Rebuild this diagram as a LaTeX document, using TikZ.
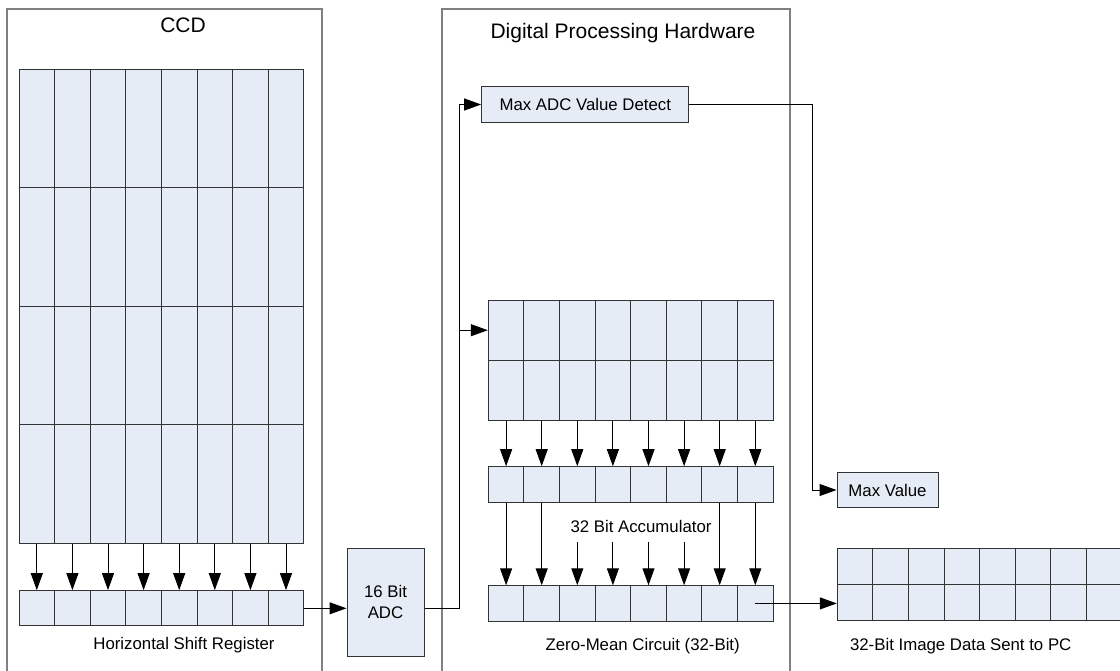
\documentclass[tikz,border=0pt]{standalone}
\usepackage{fontspec}
\setmainfont{Liberation Sans}
\usepackage{tikz}
\usetikzlibrary{arrows.meta,positioning,calc}
\definecolor{cellfill}{RGB}{230,236,246}
\definecolor{celledge}{RGB}{51,51,51}
\definecolor{framegray}{RGB}{128,128,128}

\begin{document}
\begin{tikzpicture}[x=1pt,y=-1pt,
  cell/.style={draw=celledge,fill=cellfill,line width=1pt,inner sep=0pt,minimum width=35.6pt},
  frame/.style={draw=framegray,line width=1.3pt},
  conn/.style={line width=1pt,-{Triangle[length=17pt,width=12pt]}},
  lbl/.style={font=\fontsize{16.8}{21}\selectfont},
  ttl/.style={font=\fontsize{21}{25}\selectfont}]

   \useasboundingbox (0,0) rectangle (1120,670);
   \clip (0,0) rectangle (1120,670);

    % 两个外框
    \draw[frame] (7,690) -- (7,9) -- (322,9) -- (322,690);
    \draw[frame] (442,690) -- (442,9) -- (790,9) -- (790,690);
    \node[ttl,anchor=base] (ccdtitle) at (183,32) {CCD};
    \node[ttl,anchor=base] (dphtitle) at (623,38) {Digital Processing Hardware};

    % CCD 像元与水平移位寄存器
    \foreach \i in {1,...,8}{
      \foreach \j in {1,...,4}
        \node[cell,minimum height=118.5pt] (ccd-\j-\i) at ({36.8+35.6*(\i-1)},{128.25+118.5*(\j-1)}) {};
      \node[cell,minimum height=35.3pt] (hsr-\i) at ({36.8+35.6*(\i-1)},608.3) {};
      \draw[conn] (ccd-4-\i.south) -- (hsr-\i.north);
    }
    \node[lbl,anchor=base] (hsrlabel) at (184,649) {Horizontal Shift Register};

    % 16 位 ADC
    \node[cell,lbl,align=center,minimum width=77pt,minimum height=108pt] (adc) at (385.5,602) {16 Bit\\ADC};
    \draw[conn] (hsr-8.east) -- (hsr-8.east -| adc.west);

    % 最大值检测
    \node[cell,lbl,minimum width=207.3pt,minimum height=35.6pt] (maxadc) at (585.3,104.5) {Max ADC Value Detect};
    \node[cell,lbl,minimum width=101pt,minimum height=35.6pt] (maxval) at (887.5,490) {Max Value};

    % 累加器
    \foreach \i in {1,...,8}{
      \node[cell,minimum height=60.2pt] (acc-1-\i) at ({506.1+35.6*(\i-1)},330.2) {};
      \node[cell,minimum height=60pt] (acc-2-\i) at ({506.1+35.6*(\i-1)},390.3) {};
      \node[cell,minimum height=35.6pt] (reg-\i) at ({506.1+35.6*(\i-1)},484.5) {};
      \node[cell,minimum height=35.3pt] (zm-\i) at ({506.1+35.6*(\i-1)},603.4) {};
      \draw[conn] (acc-2-\i.south) -- (reg-\i.north);
    }
    \foreach \i in {1,2,7,8}
      \draw[conn] (reg-\i.south) -- (zm-\i.north);
    \foreach \i in {3,...,6}{
      \path (zm-\i.north) ++(0,-43) coordinate (zmin-\i);
      \draw[conn] (zmin-\i) -- (zm-\i.north);
    }
    \node[lbl] (reglabel) at (641,526) {32 Bit Accumulator};
    \node[lbl,anchor=base] (zmlabel) at (642.7,650) {Zero-Mean Circuit (32-Bit)};

    % 输出图像数据
    \foreach \i in {1,...,8}{
      \node[cell,minimum height=36.7pt] (img-1-\i) at ({855.1+35.6*(\i-1)},566.6) {};
      \node[cell,minimum height=35.3pt] (img-2-\i) at ({855.1+35.6*(\i-1)},602.6) {};
    }
    \node[lbl,anchor=base] (imglabel) at (960.7,650) {32-Bit Image Data Sent to PC};

    % 连线
    \coordinate (tap) at (459.5,608);
    \coordinate (turn) at (812.7,104.5);
    \draw[line width=1pt] (adc.east |- tap) -- (tap);
    \draw[conn] (tap) |- (maxadc.west);
    \draw[conn] (tap) |- (acc-1-1.west);
    \draw[conn] (maxadc.east) -- (turn) |- (maxval.west);
    \draw[conn] (zm-8.center) -- (zm-8.center -| img-2-1.west);

\end{tikzpicture}
\end{document}
